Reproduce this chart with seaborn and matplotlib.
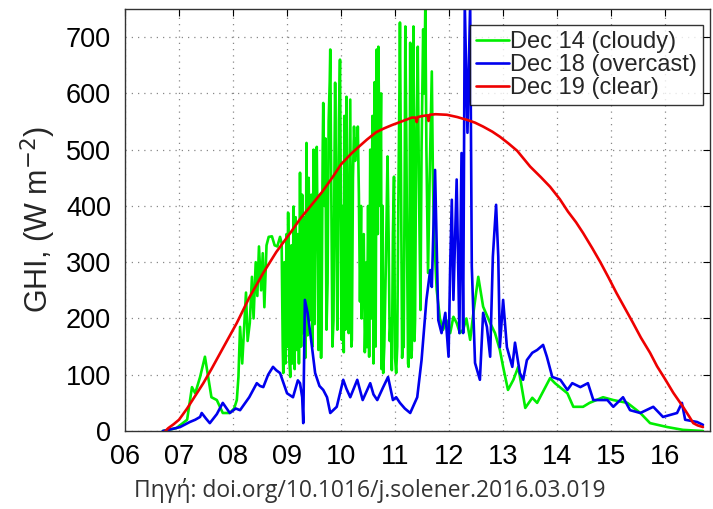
import matplotlib
matplotlib.use("Agg")
import matplotlib.pyplot as plt
import seaborn as sns
import pandas as pd

# ---- data (hours of day, GHI W/m2) ----
cloudy_h = [6.70, 6.95, 7.15, 7.24, 7.30, 7.39, 7.48, 7.54, 7.60, 7.70, 7.81, 7.94, 8.02, 8.07,
            8.10, 8.13, 8.17, 8.20, 8.24, 8.27, 8.31, 8.35, 8.38, 8.42, 8.45, 8.48, 8.52, 8.55,
            8.58, 8.62, 8.66, 8.72, 8.77, 8.82, 8.87, 8.90,
            8.92, 8.93, 8.95, 8.97, 8.99, 9.01, 9.02, 9.04, 9.06, 9.08, 9.10, 9.12, 9.14, 9.16,
            9.18, 9.20, 9.22, 9.24, 9.26, 9.28, 9.30, 9.32, 9.34, 9.36, 9.38, 9.40, 9.43, 9.45,
            9.47, 9.49, 9.51, 9.53, 9.55, 9.57, 9.58, 9.60, 9.61, 9.63, 9.64, 9.66, 9.67, 9.69,
            9.71, 9.73, 9.75, 9.77, 9.79, 9.80, 9.82, 9.84, 9.86, 9.88, 9.89, 9.91, 9.93, 9.94,
            9.96, 9.98, 10.00, 10.01, 10.03, 10.05, 10.06, 10.08, 10.10, 10.12, 10.14, 10.16,
            10.17, 10.19, 10.20, 10.22, 10.24, 10.26, 10.28, 10.30, 10.31, 10.33, 10.35, 10.37,
            10.38, 10.40, 10.42, 10.44, 10.45, 10.47, 10.48, 10.50, 10.52, 10.54, 10.56, 10.58,
            10.60, 10.62, 10.64, 10.66, 10.68, 10.69, 10.71, 10.72, 10.74, 10.75, 10.77, 10.78,
            10.80, 10.83, 10.85, 10.86, 10.88, 10.90, 10.92, 10.94, 10.96, 10.98, 11.00, 11.02,
            11.04, 11.06, 11.08, 11.09, 11.11, 11.13, 11.15, 11.16, 11.18, 11.19, 11.21, 11.22,
            11.24, 11.25, 11.27, 11.28, 11.30, 11.31, 11.33, 11.34, 11.36, 11.37, 11.39, 11.42,
            11.44, 11.47, 11.49, 11.52, 11.54, 11.56, 11.58, 11.61, 11.64, 11.68, 11.70, 11.72,
            11.77, 11.83, 11.89, 11.95, 12.02, 12.08, 12.14, 12.20, 12.26, 12.32, 12.39, 12.45,
            12.54, 12.63, 12.76, 12.85, 12.94, 13.00, 13.09, 13.19, 13.28, 13.41, 13.54, 13.63,
            13.87, 13.96, 14.19, 14.30, 14.48, 14.60, 14.85, 15.04, 15.30, 15.54, 15.72, 16.04,
            16.33, 16.70]
cloudy_v = [0, 5, 20, 78, 67, 96, 132, 96, 60, 55, 32, 32, 40, 55,
            96, 185, 120, 174, 246, 160, 192, 274, 200, 300, 240, 328, 250, 316,
            220, 330, 345, 346, 330, 328, 345, 334,
            150, 103, 300, 120, 350, 150, 388, 130, 96, 330, 120, 399, 110, 380,
            144, 350, 120, 459, 150, 420, 174, 380, 130, 512, 170, 450, 197, 420,
            150, 500, 190, 480, 505, 300, 144, 380, 420, 130, 203, 500, 583, 400,
            520, 180, 263, 550, 620, 678, 400, 150, 197, 500, 619, 420, 180, 240,
            550, 660, 350, 162, 400, 140, 560, 180, 594, 350, 174, 450,
            589, 150, 162, 450, 541, 480, 520, 490, 541, 420, 230, 400,
            200, 300, 350, 140, 180, 300, 149, 400, 132, 500, 200, 560,
            120, 620, 150, 678, 350, 683, 500, 400, 600, 110, 400, 103,
            150, 300, 420, 488, 350, 160, 200, 108, 350, 452, 130, 103,
            150, 400, 600, 726, 450, 130, 170, 149, 500, 719, 500, 350,
            120, 114, 400, 690, 130, 144, 500, 719, 160, 197, 500, 683,
            450, 215, 500, 714, 600, 760, 500, 281, 450, 639, 450, 352,
            251, 200, 180, 197, 174, 203, 192, 174, 180, 200, 162, 210,
            274, 221, 192, 174, 144, 114, 73, 91, 114, 41, 59, 50,
            94, 85, 67, 43, 43, 50, 60, 55, 50, 32, 14, 7,
            2, 0]

overcast_h = [6.70, 6.85, 7.02, 7.20, 7.30, 7.39, 7.42, 7.50, 7.57, 7.70, 7.81, 7.94, 8.05, 8.13,
              8.30, 8.44, 8.50, 8.56, 8.65, 8.74, 8.80, 8.87, 9.00, 9.11, 9.20, 9.24, 9.28, 9.30,
              9.33, 9.38, 9.43, 9.52, 9.60, 9.67, 9.74, 9.80, 9.92, 10.04, 10.10, 10.17, 10.30,
              10.40, 10.47, 10.54, 10.60, 10.67, 10.78, 10.87, 10.96, 11.02, 11.09, 11.18, 11.28,
              11.41, 11.49, 11.58, 11.65, 11.68, 11.74, 11.80, 11.86, 11.93, 11.99, 12.02, 12.05,
              12.08, 12.14, 12.19, 12.23, 12.26, 12.29, 12.34, 12.39, 12.42, 12.48, 12.57, 12.63,
              12.70, 12.76, 12.81, 12.87, 12.91, 12.94, 13.00, 13.07, 13.17, 13.22, 13.31, 13.37,
              13.44, 13.54, 13.63, 13.74, 13.81, 13.91, 14.06, 14.19, 14.28, 14.43, 14.57, 14.67,
              14.93, 15.04, 15.22, 15.35, 15.54, 15.78, 15.96, 16.22, 16.31, 16.37, 16.59, 16.70]
overcast_v = [0, 3, 7, 16, 20, 25, 32, 22, 14, 30, 50, 32, 40, 37,
              60, 85, 80, 78, 100, 114, 108, 103, 67, 60, 90, 85, 60, 14,
              233, 210, 174, 103, 80, 73, 60, 32, 43, 91, 75, 60, 91,
              55, 70, 85, 65, 55, 78, 96, 55, 60, 50, 40, 32,
              60, 126, 233, 286, 256, 464, 197, 174, 210, 132, 292, 411,
              233, 447, 174, 494, 174, 760, 530, 760, 292, 121, 91, 210,
              185, 132, 310, 402, 310, 149, 233, 149, 114, 157, 103, 91,
              126, 139, 144, 153, 132, 96, 91, 73, 85, 78, 85, 55,
              55, 43, 60, 37, 32, 43, 25, 32, 50, 20, 16, 11]

clear_h = [6.75, 6.80, 6.90, 7.00, 7.15, 7.33, 7.45, 7.60, 7.80, 8.07, 8.30, 8.56, 8.80, 9.06,
           9.25, 9.43, 9.65, 9.85, 10.00, 10.20, 10.35, 10.48, 10.65, 10.80, 10.95, 11.09, 11.20,
           11.31, 11.38, 11.40, 11.42, 11.52, 11.60, 11.62, 11.64, 11.75, 11.96, 12.15, 12.33,
           12.48, 12.63, 12.80, 12.94, 13.10, 13.26, 13.50, 13.70, 13.87, 14.05, 14.20, 14.35,
           14.48, 14.65, 14.80, 14.95, 15.10, 15.25, 15.40, 15.55, 15.72, 15.85, 16.00, 16.15,
           16.33, 16.45, 16.52, 16.60, 16.70]
clear_v = [0, 5, 12, 20, 40, 67, 85, 110, 145, 192, 237, 281, 318, 352,
           378, 399, 425, 452, 474, 494, 507, 518, 531, 538, 544, 549, 553,
           557, 557, 549, 558, 560, 561, 551, 562, 563, 562, 558, 553,
           548, 541, 532, 523, 511, 498, 470, 451, 434, 412, 390, 371,
           352, 325, 300, 273, 245, 219, 193, 166, 139, 115, 92, 68,
           43, 25, 14, 10, 7]

labels = ["Dec 14 (cloudy)", "Dec 18 (overcast)", "Dec 19 (clear)"]
colors = ["#00ee00", "#0000ee", "#ee0000"]
xtick_vals = list(range(6, 17))
xtick_labels = ["%02d" % h for h in xtick_vals]
ytick_vals = list(range(0, 701, 100))

frames = [
    pd.DataFrame({"hour": cloudy_h, "ghi": cloudy_v, "day": labels[0]}),
    pd.DataFrame({"hour": overcast_h, "ghi": overcast_v, "day": labels[1]}),
    pd.DataFrame({"hour": clear_h, "ghi": clear_v, "day": labels[2]}),
]

sns.set_style("white")
plt.rcParams["font.family"] = ["Liberation Sans", "DejaVu Sans"]

fig = plt.figure(figsize=(7.13, 5.09), dpi=100)
ax = fig.add_axes([125 / 713, 1 - 431 / 509, 585 / 713, 422 / 509])

for df, c in zip(frames, colors):
    sns.lineplot(data=df, x="hour", y="ghi", ax=ax, color=c, lw=1.9,
                 sort=False, estimator=None, label=df["day"].iloc[0])

ax.set_xlim(6, 16.83)
ax.set_ylim(0, 750)
ax.set_xticks(xtick_vals)
ax.set_xticklabels(xtick_labels)
ax.set_yticks(ytick_vals)
ax.tick_params(axis="both", direction="in", top=True, right=True, length=5,
               width=0.8, labelsize=19.5, colors="black")
ax.tick_params(axis="x", pad=9)
ax.tick_params(axis="y", pad=10)
ax.grid(True, color="#888888", linestyle=(0, (1, 4)), linewidth=0.9)
for s in ax.spines.values():
    s.set_color("#333333")
    s.set_linewidth(1.0)
    s.set_visible(True)
ax.set_xlabel("")
ax.set_ylabel("GHI, (W m$^{-2}$)", fontsize=22, labelpad=6)

leg = ax.legend(loc="upper right", bbox_to_anchor=(0.988, 0.962), borderaxespad=0,
                fontsize=17, handlelength=1.4, handletextpad=0.05, labelspacing=0.05,
                borderpad=0.25, frameon=True, fancybox=False)
leg.get_frame().set_edgecolor("black")
leg.get_frame().set_linewidth(1.0)

fig.text(0.519, 0.037, "Πηγή: doi.org/10.1016/j.solener.2016.03.019",
         ha="center", va="center", fontsize=16.5, color="#333333",
         family=["Open Sans", "DejaVu Sans"])

fig.savefig("out.png", dpi=100)
